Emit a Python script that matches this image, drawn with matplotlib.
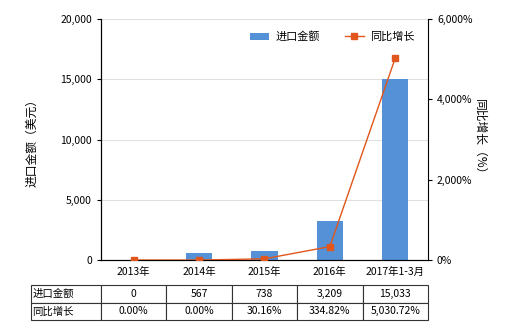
import matplotlib
matplotlib.use("Agg")
import matplotlib.pyplot as plt
from matplotlib.ticker import FuncFormatter

plt.rcParams['font.family'] = ['Noto Sans CJK SC', 'DejaVu Sans']

# data
years = ['2013年', '2014年', '2015年', '2016年', '2017年1-3月']
imports = [0, 567, 738, 3209, 15033]
growth = [0.00, 0.00, 30.16, 334.82, 5030.72]
import_labels = ['0', '567', '738', '3,209', '15,033']
growth_labels = ['0.00%', '0.00%', '30.16%', '334.82%', '5,030.72%']

bar_color = '#5591d6'
line_color = '#e0561c'

fig = plt.figure(figsize=(5.2, 3.3), dpi=100)
ax = fig.add_axes([0.194, 0.212, 0.629, 0.730])
x = list(range(len(years)))

ax.bar(x, imports, width=0.4, color=bar_color, label='进口金额', zorder=2)
ax.set_ylim(0, 20000)
ax.set_xlim(-0.5, 4.5)
ax.set_yticks([0, 5000, 10000, 15000, 20000])
ax.yaxis.set_major_formatter(FuncFormatter(lambda v, p: f'{v:,.0f}'))
ax.grid(axis='y', color='#e0e0e0', linewidth=0.8, zorder=0)
ax.set_xticks(x)
ax.set_xticklabels(years)
ax.tick_params(axis='x', length=0, labelsize=7.5, pad=5)
ax.tick_params(axis='y', labelsize=7.5, length=3)
ax.set_ylabel('进口金额（美元）', fontsize=8.5, labelpad=16)
ax.spines['top'].set_visible(False)
ax.spines['right'].set_visible(False)

ax2 = ax.twinx()
ax2.plot(x, growth, color=line_color, linewidth=1, marker='s', markersize=4,
         label='同比增长', zorder=3)
ax2.set_ylim(0, 6000)
ax2.set_yticks([0, 2000, 4000, 6000])
ax2.yaxis.set_major_formatter(FuncFormatter(lambda v, p: f'{v:,.0f}%'))
ax2.tick_params(axis='y', labelsize=7.5, length=3)
ax2.set_ylabel('同比增长（%）', fontsize=8.5, rotation=-90, labelpad=10)
ax2.spines['top'].set_visible(False)

h1, l1 = ax.get_legend_handles_labels()
h2, l2 = ax2.get_legend_handles_labels()
ax2.legend(h1 + h2, l1 + l2, ncol=2, frameon=False, fontsize=8,
           loc='upper right', bbox_to_anchor=(0.99, 0.99), handlelength=1.7,
           handletextpad=0.6, columnspacing=2.2)

# data table under the chart
cells = [['进口金额'] + import_labels, ['同比增长'] + growth_labels]
tbl = ax.table(cellText=cells, cellLoc='center',
               colWidths=[70 / 397] + [65.4 / 397] * 5,
               bbox=[-0.214, -0.249, 1.214, 0.145])
tbl.auto_set_font_size(False)
tbl.set_fontsize(7.5)
for (r, c), cell in tbl.get_celld().items():
    cell.set_edgecolor('#333333')
    cell.set_linewidth(0.8)
    if c == 0:
        cell._loc = 'left'
        cell.PAD = 0.02
        cell.get_text().set_horizontalalignment('left')

fig.savefig('out.png', dpi=100)
